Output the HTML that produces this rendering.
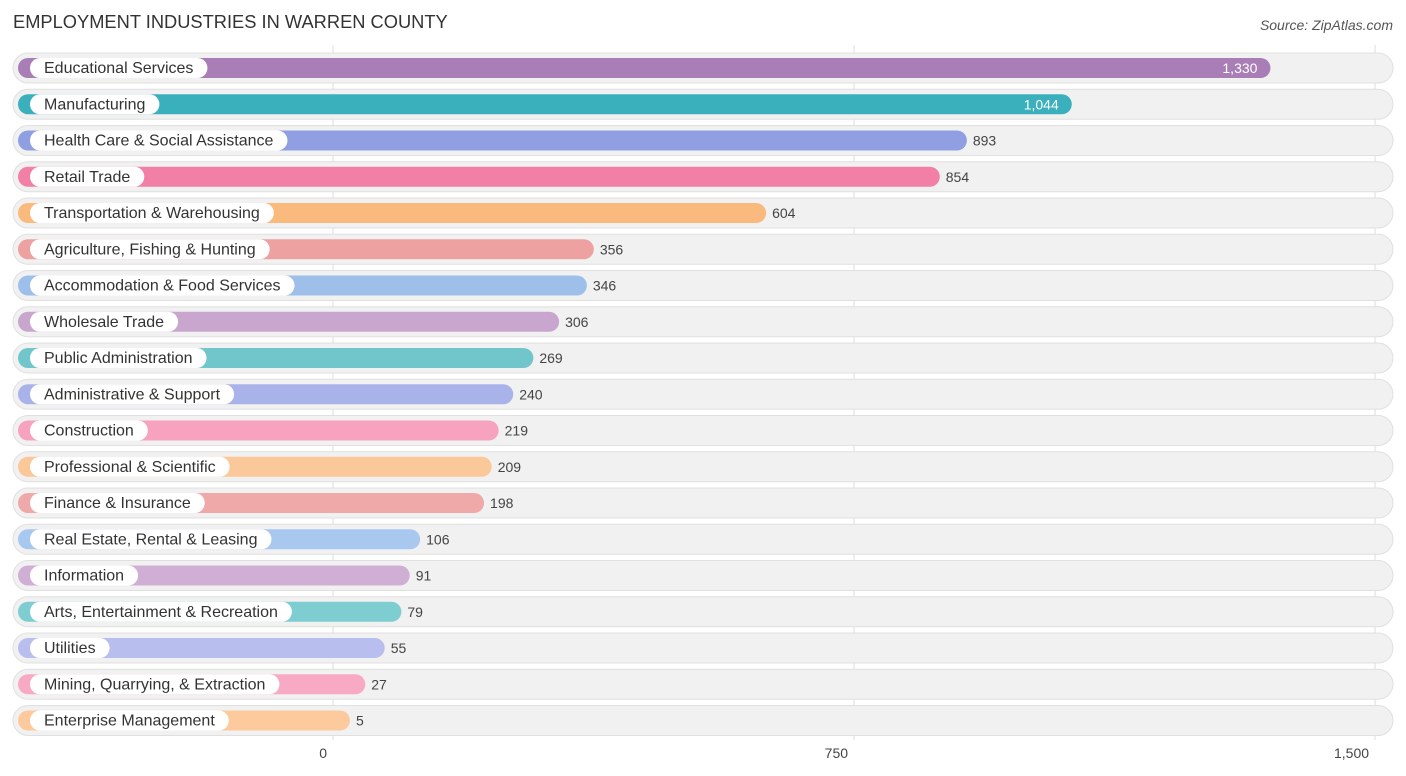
<!DOCTYPE html>
<html><head><meta charset="utf-8"><style>
body{margin:0;background:#fff;font-family:"Liberation Sans",Arial,sans-serif;}
svg{display:block}
</style></head><body>
<svg id="chart" width="1406" height="776">
<text x="13" y="28" font-size="18.3" fill="#333">EMPLOYMENT INDUSTRIES IN WARREN COUNTY</text>
<text x="1393" y="30" font-size="14" fill="#555" font-style="italic" text-anchor="end">Source: ZipAtlas.com</text>
<g id="grid"></g><g id="rows"></g><g id="ticks"></g>
</svg>
<script>
const categories=["Educational Services","Manufacturing","Health Care & Social Assistance","Retail Trade","Transportation & Warehousing","Agriculture, Fishing & Hunting","Accommodation & Food Services","Wholesale Trade","Public Administration","Administrative & Support","Construction","Professional & Scientific","Finance & Insurance","Real Estate, Rental & Leasing","Information","Arts, Entertainment & Recreation","Utilities","Mining, Quarrying, & Extraction","Enterprise Management"];
const values=[1330,1044,893,854,604,356,346,306,269,240,219,209,198,106,91,79,55,27,5];
const valueLabels=["1,330","1,044","893","854","604","356","346","306","269","240","219","209","198","106","91","79","55","27","5"];
const tickValues=[0,750,1500];
const tickLabels=["0","750","1,500"];
const colors=["#a97db6","#3ab0bc","#8f9fe1","#f27fa6","#fbba7d","#eea1a1","#9dbfe9","#c8a6cd","#71c6cc","#aab3e9","#f7a3bf","#fbc899","#f0a9a9","#a8c8ef","#cfb0d4","#7ecdd1","#b8bfee","#f8aac4","#fcca9c"];
const NS="http://www.w3.org/2000/svg";
const x=v=>333+v*0.6947;
const barEnd=v=>346.5+v*0.6947;
const rowY=i=>68+i*36.25;
function mk(t,a,p){const e=document.createElementNS(NS,t);for(const k in a)e.setAttribute(k,a[k]);p.appendChild(e);return e;}
const grid=document.getElementById('grid'),rows=document.getElementById('rows'),ticks=document.getElementById('ticks');
tickValues.forEach((t,i)=>{
 const l=mk('line',{x1:x(t),x2:x(t),y1:45,y2:740,stroke:'#ddd','stroke-width':1},grid);
 
 
 const tx=mk('text',{x:x(t)-6,y:758,'font-size':14,fill:'#444','text-anchor':'end'},ticks);
 tx.textContent=tickLabels[i];
 
 
});
categories.forEach((c,i)=>{
 const y=rowY(i);
 const g=mk('g',{},rows);
 
 
 const tr=mk('rect',{x:13,y:y-15,width:1380,height:30,rx:15,fill:'#f1f1f1',stroke:'#e0e0e0','stroke-width':1},g);
 
 
 const b=mk('rect',{x:18,y:y-10,width:barEnd(values[i])-18,height:20,rx:10,fill:colors[i]},g);
 
 
 const lp=mk('rect',{x:30,y:y-10,width:100,height:20,rx:10,fill:'#fff'},g);
 
 
 const lt=mk('text',{x:44,y:y+5,'font-size':16,fill:'#333'},g);
 lt.textContent=c;
 
 
 lp.setAttribute('width',lt.getComputedTextLength()+28);
 const inside=i<2;
 const vt=mk('text',{x:inside?barEnd(values[i])-13:barEnd(values[i])+6,y:y+5,'font-size':14,fill:inside?'#fff':'#444','text-anchor':inside?'end':'start'},g);
 vt.textContent=valueLabels[i];
 
 
});
</script>
</body></html>
